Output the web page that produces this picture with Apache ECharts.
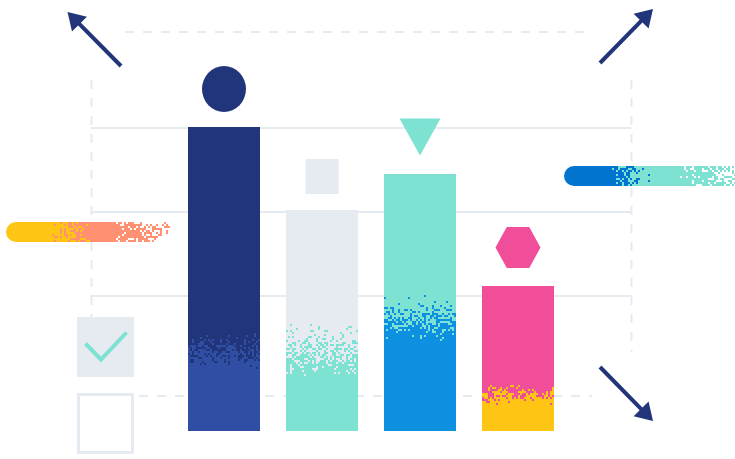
<!DOCTYPE html>
<html><head><meta charset="utf-8">
<script src="https://cdn.jsdelivr.net/npm/echarts@6/dist/echarts.min.js"></script>
<style>html,body{margin:0;padding:0;background:#fff}#c{width:735px;height:459px}</style>
</head><body><div id="c"></div>
<script>
// ---- data ----
const categories = ['A', 'B', 'C', 'D'];
const totalValues = [100, 72.7, 84.5, 47.7];
const baseValues = [19.1, 16.1, 28.6, 7.6];
const blendTopValues = [33.4, 36.5, 45.4, 16.4];
const gridLineValues = [99.7, 72.0, 44.4];

// ---- styles ----
const topColors = ['#21357B', '#E6EAF1', '#7DE2D1', '#F04E98'];
const baseColors = ['#2F4EA4', '#7DE2D1', '#0E90E0', '#FEC514'];
const markerSymbols = ['circle', 'rect', 'triangle', 'path://M25,0 L75,0 L100,50 L75,100 L25,100 L0,50 Z'];
const markerSizes = [[44, 46], [33, 35], [41, 37], [45, 41]];
const markerOffsets = [[0, -38], [0, -33.5], [0, -37], [0, -38.5]];
const markerRotate = [0, 0, 180, 0];
const markerColors = ['#21357B', '#E6EAF1', '#7DE2D1', '#F04E98'];
const LIGHT = '#E6EAF1', NAVY = '#22357A';

function ih(x, y, s) {
  let h = (Math.imul(x | 0, 374761393) + Math.imul(y | 0, 668265263) + Math.imul(s | 0, 1442695041)) | 0;
  h = Math.imul(h ^ (h >>> 13), 1274126177);
  h ^= h >>> 16;
  return (h >>> 0) / 4294967296;
}
function noise(cx, cy, s) {
  return 0.85 * ih(cx, cy, s) + 0.15 * ih(Math.floor(cx / 3) + 1000, Math.floor(cy / 3) + 1000, s + 9);
}
const bandCache = {};
function speckleV(w, h, bottomC, topC, seed) {
  const c = document.createElement('canvas');
  c.width = w; c.height = h;
  const ctx = c.getContext('2d');
  ctx.fillStyle = topC; ctx.fillRect(0, 0, w, h);
  ctx.fillStyle = bottomC;
  const cell = 2;
  for (let y = 0; y < h; y += cell) {
    const u = (y + cell / 2) / h;
    const p = Math.min(1, Math.max(0, Math.pow(u, 1.1) * 1.05));
    for (let x = 0; x < w; x += cell) {
      if (noise(x / cell, y / cell, seed) < p) ctx.fillRect(x, y, cell, cell);
    }
  }
  return c;
}
function speckleH(w, h, stops, seed) {
  const c = document.createElement('canvas');
  c.width = w; c.height = h;
  const ctx = c.getContext('2d');
  const r = h / 2;
  ctx.beginPath();
  ctx.moveTo(r, 0); ctx.lineTo(w, 0); ctx.lineTo(w, h); ctx.lineTo(r, h);
  ctx.arc(r, r, r, Math.PI / 2, Math.PI * 1.5); ctx.closePath();
  ctx.clip();
  const cell = 2;
  for (let x = 0; x < w; x += cell) {
    const t = (x + cell / 2) / w;
    let i = 0;
    while (i < stops.length - 2 && t > stops[i + 1][0]) i++;
    const a = stops[i], b = stops[i + 1];
    const f = Math.min(1, Math.max(0, (t - a[0]) / (b[0] - a[0])));
    for (let y = 0; y < h; y += cell) {
      const col = noise(x / cell, y / cell, seed) < f ? b[1] : a[1];
      if (col) { ctx.fillStyle = col; ctx.fillRect(x, y, cell, cell); }
    }
  }
  return c;
}

const chart = echarts.init(document.getElementById('c'), null, { renderer: 'canvas' });
const barWidth = 72;

const option = {
  animation: false,
  grid: { left: 175, right: 168, top: 127, bottom: 28 },
  xAxis: { type: 'category', data: categories, show: false },
  yAxis: { type: 'value', min: 0, max: 100, show: false },
  series: [
    { type: 'bar', stack: 's', barWidth: barWidth, z: 3,
      data: baseValues.map((v, i) => ({ value: v, itemStyle: { color: baseColors[i] } })) },
    { type: 'bar', stack: 's', barWidth: barWidth, z: 3,
      data: blendTopValues.map((v, i) => ({ value: v - baseValues[i], itemStyle: { color: topColors[i] } })) },
    { type: 'bar', stack: 's', barWidth: barWidth, z: 3,
      data: totalValues.map((v, i) => ({ value: v - blendTopValues[i], itemStyle: { color: topColors[i] } })) },
    { type: 'custom', z: 4,
      data: categories.map((c, i) => [i, baseValues[i], blendTopValues[i]]),
      encode: { x: 0, y: [1, 2] },
      renderItem: function (params, api) {
        const i = api.value(0);
        const p1 = api.coord([i, api.value(1)]);
        const p2 = api.coord([i, api.value(2)]);
        const y0 = Math.round(p2[1]);
        const h = Math.ceil(p1[1]) - y0;
        const key = i + '_' + h;
        if (!bandCache[key]) bandCache[key] = speckleV(barWidth, h, baseColors[i], topColors[i], i * 3 + 1);
        return { type: 'image', style: { image: bandCache[key], x: p1[0] - barWidth / 2, y: y0, width: barWidth, height: h } };
      } },
    { type: 'scatter', z: 5,
      data: totalValues.map((v, i) => ({
        value: [categories[i], v], symbol: markerSymbols[i], symbolSize: markerSizes[i],
        symbolOffset: markerOffsets[i], symbolRotate: markerRotate[i],
        itemStyle: { color: markerColors[i], opacity: 1 } })) }
  ]
};
chart.setOption(option);

// ---- decorations ----
function arrow(sx, sy, tx, ty) {
  const dx = tx - sx, dy = ty - sy, len = Math.hypot(dx, dy);
  const ux = dx / len, uy = dy / len, nx = -uy, ny = ux;
  const L = 17, W = 10.5;
  const bx = tx - ux * L, by = ty - uy * L;
  return [
    { type: 'line', z: 10, shape: { x1: sx, y1: sy, x2: bx + ux * 2, y2: by + uy * 2 }, style: { stroke: NAVY, lineWidth: 4 } },
    { type: 'polygon', z: 10, shape: { points: [[tx, ty], [bx + nx * W, by + ny * W], [bx - nx * W, by - ny * W]] }, style: { fill: NAVY } }
  ];
}
const gy = gridLineValues.map(v => chart.convertToPixel({ yAxisIndex: 0 }, v));
const dash = { stroke: LIGHT, lineWidth: 2, lineDash: [9, 9] };
const graphics = [];
gy.forEach(y => graphics.push({ type: 'line', z: 0, shape: { x1: 90.5, y1: y, x2: 631.5, y2: y }, style: { stroke: LIGHT, lineWidth: 2 } }));
graphics.push({ type: 'line', z: 0, shape: { x1: 125, y1: 32, x2: 590, y2: 32 }, style: dash });
graphics.push({ type: 'line', z: 0, shape: { x1: 139, y1: 396, x2: 592, y2: 396 }, style: dash });
graphics.push({ type: 'line', z: 0, shape: { x1: 91.5, y1: 80, x2: 91.5, y2: 318 }, style: dash });
graphics.push({ type: 'line', z: 0, shape: { x1: 631.5, y1: 80, x2: 631.5, y2: 352 }, style: dash });
// checkboxes
graphics.push({ type: 'rect', z: 6, shape: { x: 77, y: 317, width: 57, height: 60 }, style: { fill: LIGHT } });
graphics.push({ type: 'polyline', z: 7, shape: { points: [[85.5, 343.5], [101, 359.5], [126.5, 332.5]] }, style: { stroke: '#7DE2D1', lineWidth: 4, fill: null } });
graphics.push({ type: 'rect', z: 6, shape: { x: 78.5, y: 394.5, width: 54, height: 58 }, style: { fill: '#fff', stroke: LIGHT, lineWidth: 3 } });
// pills
graphics.push({ type: 'image', z: 6, style: { image: speckleH(164, 20, [[0, '#FEC514'], [0.26, '#FEC514'], [0.56, '#FF9172'], [0.6, '#FF9172'], [1.1, null]], 21), x: 6, y: 222, width: 164, height: 20 } });
graphics.push({ type: 'image', z: 6, style: { image: speckleH(171, 20, [[0, '#0074CF'], [0.25, '#0074CF'], [0.52, '#7DE2D1'], [0.62, '#7DE2D1'], [1.25, null]], 37), x: 564, y: 166, width: 171, height: 20 } });
// arrows
graphics.push(...arrow(121, 66, 67.5, 12));
graphics.push(...arrow(600, 63, 653, 9));
graphics.push(...arrow(600, 367, 653, 421));
chart.setOption({ graphic: graphics });
</script>
</body></html>
